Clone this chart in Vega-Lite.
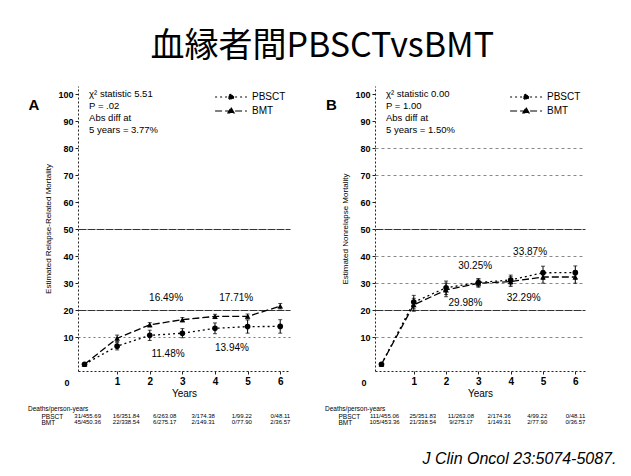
{
  "$schema": "https://vega.github.io/schema/vega-lite/v6.json",
  "background": "white",
  "padding": {"left": 28, "top": 30, "right": 5, "bottom": 4},
  "config": {"font": "Liberation Sans", "view": {"stroke": null}, "concat": {"spacing": 34}},
  "title": {"text": "血縁者間PBSCTvsBMT", "font": "Noto Sans CJK JP", "fontSize": 34, "fontWeight": "normal", "color": "black", "anchor": "middle", "offset": 22},
  "resolve": {"legend": {"strokeDash": "independent"}, "scale": {"strokeDash": "independent"}},
  "datasets": {
    "rrm": [
      {"group": "PBSCT", "year": 0, "pct": 0, "lo": null, "hi": null},
      {"group": "PBSCT", "year": 1, "pct": 6.7, "lo": 5.3, "hi": 8.1},
      {"group": "PBSCT", "year": 2, "pct": 10.7, "lo": 8.8, "hi": 12.6},
      {"group": "PBSCT", "year": 3, "pct": 11.48, "lo": 9.8, "hi": 13.2},
      {"group": "PBSCT", "year": 4, "pct": 13.3, "lo": 11.3, "hi": 15.3},
      {"group": "PBSCT", "year": 5, "pct": 13.94, "lo": 11.5, "hi": 16.4},
      {"group": "PBSCT", "year": 6, "pct": 14.0, "lo": 11.5, "hi": 16.5},
      {"group": "BMT", "year": 0, "pct": 0, "lo": null, "hi": null},
      {"group": "BMT", "year": 1, "pct": 9.6, "lo": 8.4, "hi": 10.8},
      {"group": "BMT", "year": 2, "pct": 14.6, "lo": 13.8, "hi": 15.4},
      {"group": "BMT", "year": 3, "pct": 16.49, "lo": 15.7, "hi": 17.3},
      {"group": "BMT", "year": 4, "pct": 17.7, "lo": 16.9, "hi": 18.5},
      {"group": "BMT", "year": 5, "pct": 17.71, "lo": 16.8, "hi": 18.6},
      {"group": "BMT", "year": 6, "pct": 21.5, "lo": 20.5, "hi": 22.5}
    ],
    "nrm": [
      {"group": "PBSCT", "year": 0, "pct": 0, "lo": null, "hi": null},
      {"group": "PBSCT", "year": 1, "pct": 23.0, "lo": 20.5, "hi": 25.5},
      {"group": "PBSCT", "year": 2, "pct": 28.3, "lo": 25.8, "hi": 30.8},
      {"group": "PBSCT", "year": 3, "pct": 30.25, "lo": 28.8, "hi": 31.7},
      {"group": "PBSCT", "year": 4, "pct": 31.2, "lo": 29.4, "hi": 33.0},
      {"group": "PBSCT", "year": 5, "pct": 33.87, "lo": 31.4, "hi": 36.3},
      {"group": "PBSCT", "year": 6, "pct": 33.9, "lo": 31.4, "hi": 36.4},
      {"group": "BMT", "year": 0, "pct": 0, "lo": null, "hi": null},
      {"group": "BMT", "year": 1, "pct": 22.0, "lo": 19.6, "hi": 24.4},
      {"group": "BMT", "year": 2, "pct": 27.5, "lo": 25.0, "hi": 30.0},
      {"group": "BMT", "year": 3, "pct": 29.98, "lo": 28.5, "hi": 31.5},
      {"group": "BMT", "year": 4, "pct": 30.6, "lo": 28.8, "hi": 32.4},
      {"group": "BMT", "year": 5, "pct": 32.29, "lo": 30.0, "hi": 34.6},
      {"group": "BMT", "year": 6, "pct": 32.3, "lo": 30.0, "hi": 34.6}
    ],
    "notesA": [
      {"year": 2.5, "pct": 24.4, "label": "16.49%"},
      {"year": 4.65, "pct": 24.4, "label": "17.71%"},
      {"year": 2.56, "pct": 3.7, "label": "11.48%"},
      {"year": 4.52, "pct": 6.0, "label": "13.94%"}
    ],
    "notesB": [
      {"year": 2.9, "pct": 36.3, "label": "30.25%"},
      {"year": 4.6, "pct": 41.5, "label": "33.87%"},
      {"year": 2.6, "pct": 22.6, "label": "29.98%"},
      {"year": 4.4, "pct": 24.4, "label": "32.29%"}
    ],
    "statsA": [{"year": 0.14, "pct": 102, "label": "χ² statistic 5.51\nP = .02\nAbs diff at\n5 years = 3.77%"}],
    "statsB": [{"year": 0.14, "pct": 102, "label": "χ² statistic 0.00\nP = 1.00\nAbs diff at\n5 years = 1.50%"}],
    "tagA": [{"year": -1.55, "pct": 96, "label": "A"}],
    "tagB": [{"year": -1.55, "pct": 96, "label": "B"}],
    "tabA": [
      {"group": "PBSCT", "col": 0, "txt": "31/455.69"},
      {"group": "PBSCT", "col": 1, "txt": "16/351.84"},
      {"group": "PBSCT", "col": 2, "txt": "6/263.08"},
      {"group": "PBSCT", "col": 3, "txt": "3/174.38"},
      {"group": "PBSCT", "col": 4, "txt": "1/99.22"},
      {"group": "PBSCT", "col": 5, "txt": "0/48.11"},
      {"group": "BMT", "col": 0, "txt": "45/450.36"},
      {"group": "BMT", "col": 1, "txt": "22/338.54"},
      {"group": "BMT", "col": 2, "txt": "6/275.17"},
      {"group": "BMT", "col": 3, "txt": "2/149.31"},
      {"group": "BMT", "col": 4, "txt": "0/77.90"},
      {"group": "BMT", "col": 5, "txt": "2/36.57"}
    ],
    "tabB": [
      {"group": "PBSCT", "col": 0, "txt": "111/455.06"},
      {"group": "PBSCT", "col": 1, "txt": "25/351.83"},
      {"group": "PBSCT", "col": 2, "txt": "11/263.08"},
      {"group": "PBSCT", "col": 3, "txt": "2/174.36"},
      {"group": "PBSCT", "col": 4, "txt": "4/99.22"},
      {"group": "PBSCT", "col": 5, "txt": "0/48.11"},
      {"group": "BMT", "col": 0, "txt": "105/453.36"},
      {"group": "BMT", "col": 1, "txt": "21/338.54"},
      {"group": "BMT", "col": 2, "txt": "9/275.17"},
      {"group": "BMT", "col": 3, "txt": "1/149.31"},
      {"group": "BMT", "col": 4, "txt": "2/77.90"},
      {"group": "BMT", "col": 5, "txt": "0/36.57"}
    ]
  },
  "hconcat": [
    {
      "spacing": 7,
      "resolve": {"legend": {"strokeDash": "independent"}, "scale": {"strokeDash": "independent"}},
      "vconcat": [
        {
          "width": 212,
          "height": 285,
          "encoding": {
            "x": {"field": "year", "type": "quantitative", "scale": {"domain": [-0.2, 6.3], "nice": false, "zero": false}, "axis": {"values": [1, 2, 3, 4, 5, 6], "title": "Years", "grid": false, "labelOverlap": false, "domainDash": [2, 2], "domainColor": "#222", "tickColor": "#222", "tickSize": 3, "labelFontSize": 10, "labelFontWeight": "bold", "labelColor": "black", "labelPadding": 2, "titleFontSize": 10, "titleFontWeight": "normal", "titleColor": "black", "titlePadding": 2}},
            "y": {"field": "pct", "type": "quantitative", "scale": {"domain": [-2.5, 103], "nice": false, "zero": false}, "axis": {"values": [0, 10, 20, 30, 40, 50, 60, 70, 80, 90, 100], "labelOverlap": false, "title": "Estimated Relapse-Related Mortality", "titleFontSize": 8, "titleFontWeight": "normal", "titleColor": "black", "titlePadding": 5, "domainDash": [2, 2], "domainColor": "#222", "tickColor": "#222", "tickSize": 3, "tickOpacity": {"condition": {"test": "datum.value == 0", "value": 0}, "value": 1}, "labelFontSize": 9, "labelFontWeight": "bold", "labelColor": "black", "labelPadding": {"condition": {"test": "datum.value == 0", "value": 6}, "value": 2}, "labelOffset": {"condition": {"test": "datum.value == 0", "value": 18}, "value": 0}, "grid": true, "gridColor": {"condition": {"test": "datum.value == 20 || datum.value == 50", "value": "#333"}, "value": "#777"}, "gridDash": {"condition": {"test": "datum.value == 20 || datum.value == 50", "value": [8, 1]}, "value": [2, 3]}, "gridOpacity": {"condition": {"test": "datum.value == 20 || datum.value == 50 || datum.value == 10", "value": 1}, "value": 0}}}
          },
          "layer": [
            {
              "data": {"name": "rrm"},
              "mark": {"type": "line", "color": "black", "strokeWidth": 1.3},
              "encoding": {
                "strokeDash": {"field": "group", "type": "nominal", "scale": {"domain": ["PBSCT", "BMT"], "range": [[2, 3], [7, 3]]}, "legend": {"title": null, "orient": "top-right", "offset": 4, "symbolType": "stroke", "symbolSize": 150, "symbolStrokeWidth": 1.2, "symbolStrokeColor": "black", "symbolFillColor": "black", "labelFontSize": 10, "labelColor": "black", "labelOffset": 14, "rowPadding": 2, "encode": {"symbols": {"update": {"shape": {"signal": "datum.value == 'BMT' ? 'M-2.6,0H2.6M0,-0.55L0.5,0.33L-0.5,0.33Z' : 'M-2.6,0H2.6M0.42,0A0.42,0.42 0 1,1 -0.42,0A0.42,0.42 0 1,1 0.42,0Z'"}, "fill": {"value": "black"}, "stroke": {"value": "black"}, "strokeWidth": {"value": 1.2}, "strokeDash": {"scale": "strokeDash", "field": "value"}, "opacity": {"value": 1}}}}}}
              }
            },
            {
              "data": {"name": "rrm"},
              "mark": {"type": "errorbar", "color": "black", "thickness": 1, "ticks": {"size": 4, "color": "black"}},
              "encoding": {
                "y": {"field": "lo", "type": "quantitative", "axis": {"values": [0, 10, 20, 30, 40, 50, 60, 70, 80, 90, 100], "labelOverlap": false, "title": "Estimated Relapse-Related Mortality", "titleFontSize": 8, "titleFontWeight": "normal", "titleColor": "black", "titlePadding": 5, "domainDash": [2, 2], "domainColor": "#222", "tickColor": "#222", "tickSize": 3, "tickOpacity": {"condition": {"test": "datum.value == 0", "value": 0}, "value": 1}, "labelFontSize": 9, "labelFontWeight": "bold", "labelColor": "black", "labelPadding": {"condition": {"test": "datum.value == 0", "value": 6}, "value": 2}, "labelOffset": {"condition": {"test": "datum.value == 0", "value": 18}, "value": 0}, "grid": true, "gridColor": {"condition": {"test": "datum.value == 20 || datum.value == 50", "value": "#333"}, "value": "#777"}, "gridDash": {"condition": {"test": "datum.value == 20 || datum.value == 50", "value": [8, 1]}, "value": [2, 3]}, "gridOpacity": {"condition": {"test": "datum.value == 20 || datum.value == 50 || datum.value == 10", "value": 1}, "value": 0}}},
                "y2": {"field": "hi"}
              }
            },
            {
              "data": {"name": "rrm"},
              "mark": {"type": "point", "filled": true, "color": "black", "opacity": 1, "size": 32},
              "encoding": {
                "shape": {"condition": {"test": "datum.group == 'BMT'", "value": "triangle-up"}, "value": "circle"}
              }
            },
            {
              "data": {"name": "notesA"},
              "mark": {"type": "text", "fontSize": 10, "color": "black", "align": "center"},
              "encoding": {"text": {"field": "label"}}
            },
            {
              "data": {"name": "statsA"},
              "mark": {"type": "text", "fontSize": 9.5, "color": "black", "align": "left", "baseline": "top", "lineBreak": "\n", "lineHeight": 12},
              "encoding": {"text": {"field": "label"}}
            },
            {
              "data": {"name": "tagA"},
              "mark": {"type": "text", "fontSize": 15, "fontWeight": "bold", "color": "black", "align": "center", "baseline": "middle"},
              "encoding": {"text": {"field": "label"}}
            }
          ]
        },
        {
          "width": 212,
          "height": 12,
          "data": {"name": "tabA"},
          "title": {"text": "Deaths/person-years", "fontSize": 6.5, "fontWeight": "normal", "color": "black", "anchor": "start", "frame": "group", "dx": -50, "offset": 1},
          "mark": {"type": "text", "fontSize": 6, "color": "black"},
          "encoding": {
            "x": {"field": "col", "type": "ordinal", "scale": {"type": "point", "padding": 0.25}, "axis": null},
            "y": {"field": "group", "type": "nominal", "sort": ["PBSCT", "BMT"], "axis": {"title": null, "domain": false, "ticks": false, "labelAlign": "left", "labelPadding": 37, "labelFontSize": 6.5, "labelColor": "black"}},
            "text": {"field": "txt"}
          }
        }
      ]
    },
    {
      "spacing": 7,
      "resolve": {"legend": {"strokeDash": "independent"}, "scale": {"strokeDash": "independent"}},
      "title": {"text": "J Clin Oncol 23:5074-5087.", "orient": "bottom", "anchor": "end", "fontStyle": "italic", "fontSize": 16, "fontWeight": "normal", "color": "black", "offset": 25, "dx": 31},
      "vconcat": [
        {
          "width": 210,
          "height": 285,
          "encoding": {
            "x": {"field": "year", "type": "quantitative", "scale": {"domain": [-0.2, 6.3], "nice": false, "zero": false}, "axis": {"values": [1, 2, 3, 4, 5, 6], "title": "Years", "grid": false, "labelOverlap": false, "domainDash": [2, 2], "domainColor": "#222", "tickColor": "#222", "tickSize": 3, "labelFontSize": 10, "labelFontWeight": "bold", "labelColor": "black", "labelPadding": 2, "titleFontSize": 10, "titleFontWeight": "normal", "titleColor": "black", "titlePadding": 2}},
            "y": {"field": "pct", "type": "quantitative", "scale": {"domain": [-2.5, 103], "nice": false, "zero": false}, "axis": {"values": [0, 10, 20, 30, 40, 50, 60, 70, 80, 90, 100], "labelOverlap": false, "title": "Estimated Nonrelapse Mortality", "titleFontSize": 8, "titleFontWeight": "normal", "titleColor": "black", "titlePadding": 5, "domainDash": [2, 2], "domainColor": "#222", "tickColor": "#222", "tickSize": 3, "tickOpacity": {"condition": {"test": "datum.value == 0", "value": 0}, "value": 1}, "labelFontSize": 9, "labelFontWeight": "bold", "labelColor": "black", "labelPadding": {"condition": {"test": "datum.value == 0", "value": 6}, "value": 2}, "labelOffset": {"condition": {"test": "datum.value == 0", "value": 18}, "value": 0}, "grid": true, "gridColor": {"condition": {"test": "datum.value == 20 || datum.value == 50", "value": "#333"}, "value": "#888"}, "gridDash": {"condition": {"test": "datum.value == 20 || datum.value == 50", "value": [8, 1]}, "value": [3, 3]}, "gridOpacity": {"condition": {"test": "datum.value == 0 || datum.value == 60 || datum.value == 90 || datum.value == 100", "value": 0}, "value": 1}}}
          },
          "layer": [
            {
              "data": {"name": "nrm"},
              "mark": {"type": "line", "color": "black", "strokeWidth": 1.3},
              "encoding": {
                "strokeDash": {"field": "group", "type": "nominal", "scale": {"domain": ["PBSCT", "BMT"], "range": [[2, 3], [7, 3]]}, "legend": {"title": null, "orient": "top-right", "offset": 4, "symbolType": "stroke", "symbolSize": 150, "symbolStrokeWidth": 1.2, "symbolStrokeColor": "black", "symbolFillColor": "black", "labelFontSize": 10, "labelColor": "black", "labelOffset": 14, "rowPadding": 2, "encode": {"symbols": {"update": {"shape": {"signal": "datum.value == 'BMT' ? 'M-2.6,0H2.6M0,-0.55L0.5,0.33L-0.5,0.33Z' : 'M-2.6,0H2.6M0.42,0A0.42,0.42 0 1,1 -0.42,0A0.42,0.42 0 1,1 0.42,0Z'"}, "fill": {"value": "black"}, "stroke": {"value": "black"}, "strokeWidth": {"value": 1.2}, "strokeDash": {"scale": "strokeDash", "field": "value"}, "opacity": {"value": 1}}}}}}
              }
            },
            {
              "data": {"name": "nrm"},
              "mark": {"type": "errorbar", "color": "black", "thickness": 1, "ticks": {"size": 4, "color": "black"}},
              "encoding": {
                "y": {"field": "lo", "type": "quantitative", "axis": {"values": [0, 10, 20, 30, 40, 50, 60, 70, 80, 90, 100], "labelOverlap": false, "title": "Estimated Nonrelapse Mortality", "titleFontSize": 8, "titleFontWeight": "normal", "titleColor": "black", "titlePadding": 5, "domainDash": [2, 2], "domainColor": "#222", "tickColor": "#222", "tickSize": 3, "tickOpacity": {"condition": {"test": "datum.value == 0", "value": 0}, "value": 1}, "labelFontSize": 9, "labelFontWeight": "bold", "labelColor": "black", "labelPadding": {"condition": {"test": "datum.value == 0", "value": 6}, "value": 2}, "labelOffset": {"condition": {"test": "datum.value == 0", "value": 18}, "value": 0}, "grid": true, "gridColor": {"condition": {"test": "datum.value == 20 || datum.value == 50", "value": "#333"}, "value": "#888"}, "gridDash": {"condition": {"test": "datum.value == 20 || datum.value == 50", "value": [8, 1]}, "value": [3, 3]}, "gridOpacity": {"condition": {"test": "datum.value == 0 || datum.value == 60 || datum.value == 90 || datum.value == 100", "value": 0}, "value": 1}}},
                "y2": {"field": "hi"}
              }
            },
            {
              "data": {"name": "nrm"},
              "mark": {"type": "point", "filled": true, "color": "black", "opacity": 1, "size": 32},
              "encoding": {
                "shape": {"condition": {"test": "datum.group == 'BMT'", "value": "triangle-up"}, "value": "circle"}
              }
            },
            {
              "data": {"name": "notesB"},
              "mark": {"type": "text", "fontSize": 10, "color": "black", "align": "center"},
              "encoding": {"text": {"field": "label"}}
            },
            {
              "data": {"name": "statsB"},
              "mark": {"type": "text", "fontSize": 9.5, "color": "black", "align": "left", "baseline": "top", "lineBreak": "\n", "lineHeight": 12},
              "encoding": {"text": {"field": "label"}}
            },
            {
              "data": {"name": "tagB"},
              "mark": {"type": "text", "fontSize": 15, "fontWeight": "bold", "color": "black", "align": "center", "baseline": "middle"},
              "encoding": {"text": {"field": "label"}}
            }
          ]
        },
        {
          "width": 210,
          "height": 12,
          "data": {"name": "tabB"},
          "title": {"text": "Deaths/person-years", "fontSize": 6.5, "fontWeight": "normal", "color": "black", "anchor": "start", "frame": "group", "dx": -50, "offset": 1},
          "mark": {"type": "text", "fontSize": 6, "color": "black"},
          "encoding": {
            "x": {"field": "col", "type": "ordinal", "scale": {"type": "point", "padding": 0.25}, "axis": null},
            "y": {"field": "group", "type": "nominal", "sort": ["PBSCT", "BMT"], "axis": {"title": null, "domain": false, "ticks": false, "labelAlign": "left", "labelPadding": 37, "labelFontSize": 6.5, "labelColor": "black"}},
            "text": {"field": "txt"}
          }
        }
      ]
    }
  ]
}
